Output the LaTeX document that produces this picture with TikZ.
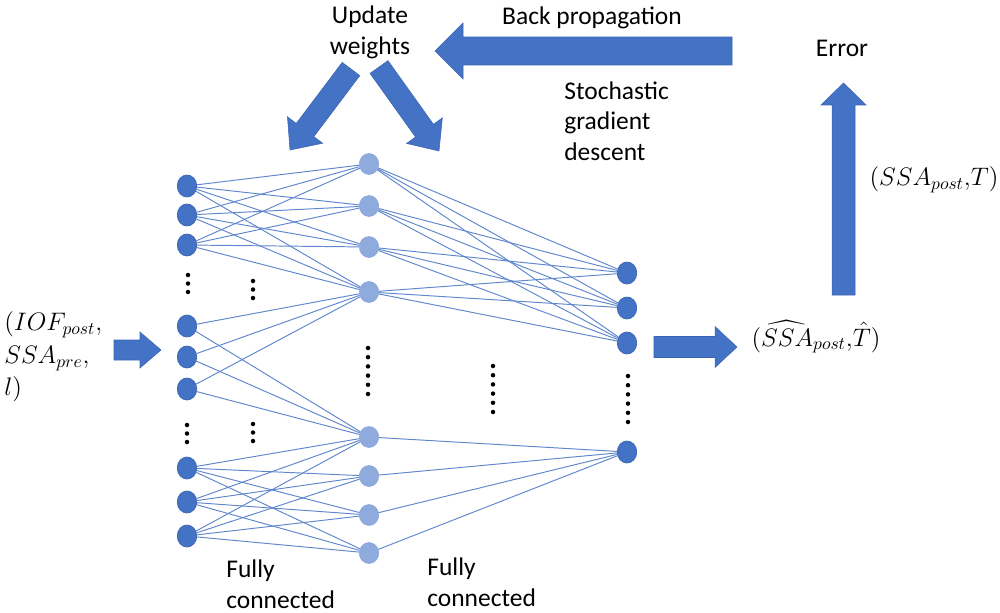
\documentclass[tikz,border=0pt]{standalone}
\usepackage{fontspec}
\setmainfont{Carlito}
\usepackage{amsmath}
\usepackage{tikz}
\usetikzlibrary{positioning,calc,shapes.geometric}
\definecolor{darkblue}{HTML}{4472C4}
\definecolor{lightblue}{HTML}{8FAADC}
\definecolor{rimblue}{HTML}{3A64B2}

% block arrow: tail, tip, half shaft, half head, head length
\newcommand{\fatarrow}[5]{%
  \coordinate (hb) at ($(#2)!#5!(#1)$);
  \fill[darkblue, draw=rimblue, line width=0.3pt]
    ($(#1)!#3!90:(#2)$) -- ($(hb)!#3!90:(#2)$) -- ($(hb)!#4!90:(#2)$) -- (#2)
    -- ($(hb)!#4!-90:(#2)$) -- ($(hb)!#3!-90:(#2)$) -- ($(#1)!#3!-90:(#2)$) -- cycle;}

\begin{document}
\begin{tikzpicture}[x=0.02cm, y=-0.02cm,
    inode/.style={ellipse, fill=darkblue, draw=rimblue, line width=0.4pt,
                  minimum width=0.39cm, minimum height=0.44cm, inner sep=0pt},
    hnode/.style={ellipse, fill=lightblue, draw=lightblue!90!darkblue, line width=0.3pt,
                  minimum width=0.39cm, minimum height=0.42cm, inner sep=0pt},
    edge/.style={darkblue!85, line width=0.55pt},
    lbl/.style={font=\fontsize{14.5}{17.5}\selectfont, inner sep=0pt},
    vdot/.style={fill=black}]
  \useasboundingbox (0,0) rectangle (1000,612);

  % layers
  \foreach \y [count=\i] in {186,215,245,326,357,389,468,502,536}
    \node[inode] (i\i) at (187,\y) {};
  \foreach \y [count=\i] in {164,206,247,292,437,476,515,553}
    \node[hnode] (h\i) at (369,\y) {};
  \foreach \y [count=\i] in {273,308,343,452}
    \node[inode] (o\i) at (627,\y) {};

  % weights
  \foreach \a in {1,2,3}
    \foreach \b in {1,...,4} \draw[edge] (i\a) -- (h\b);
  \foreach \a in {4,5,6}
    \foreach \b in {4,5} \draw[edge] (i\a) -- (h\b);
  \foreach \a in {7,8,9}
    \foreach \b in {5,...,8} \draw[edge] (i\a) -- (h\b);
  \foreach \a in {1,...,4}
    \foreach \b in {1,2,3} \draw[edge] (h\a) -- (o\b);
  \foreach \a in {5,...,8} \draw[edge] (h\a) -- (o4);

  % ellipsis dots
  \foreach \x/\y in {188/275, 253/281, 187/425, 253/424}
    \foreach \k in {0,1,2} \fill[vdot] (\x,\y+8.5*\k) circle (0.045cm);
  \foreach \x/\y in {368/348, 493/366, 628/376}
    \foreach \k in {0,...,5} \fill[vdot] (\x,\y+9.2*\k) circle (0.045cm);

  % block arrows
  \coordinate (intail) at (114,350);  \coordinate (intip) at (161,350);
  \coordinate (outtail) at (654,347); \coordinate (outtip) at (737,347);
  \coordinate (errtail) at (843.5,295); \coordinate (errtip) at (843.5,83);
  \coordinate (bptail) at (732,51);   \coordinate (bptip) at (435,51);
  \coordinate (ltail) at (351,69);    \coordinate (ltip) at (290,150);
  \coordinate (rtail) at (379,67);    \coordinate (rtip) at (439,151);
  \fatarrow{intail}{intip}{0.2cm}{0.36cm}{0.42cm}
  \fatarrow{outtail}{outtip}{0.21cm}{0.41cm}{0.44cm}
  \fatarrow{errtail}{errtip}{0.23cm}{0.45cm}{0.44cm}
  \fatarrow{bptail}{bptip}{0.28cm}{0.56cm}{0.56cm}
  \fatarrow{ltail}{ltip}{0.22cm}{0.44cm}{0.5cm}
  \fatarrow{rtail}{rtip}{0.22cm}{0.44cm}{0.5cm}

  % labels
  \node[lbl, align=center] (upd) at (370,32) {Update\\weights};
  \node[lbl, anchor=base] (bp) at (592,24) {Back propagation};
  \node[lbl, anchor=base] (err) at (842,56) {Error};
  \node[lbl, align=left, anchor=west] (sgd) at (564,121) {Stochastic\\gradient\\descent};
  \node[lbl, align=left, anchor=west] (fc1) at (226,584) {Fully\\connected};
  \node[lbl, align=left, anchor=west] (fc2) at (427,582) {Fully\\connected};
  \node[lbl, align=left, anchor=west, font=\fontsize{14.5}{18.5}\selectfont] (inp) at (4,357)
    {$(IOF_{post}{,}$\\$SSA_{pre}{,}$\\$l)$};
  \node[lbl] (pred) at (816,337) {$(\widehat{SSA}_{post}{,}\hat{T})$};
  \node[lbl] (truth) at (934,180) {$(SSA_{post}{,}T)$};
\end{tikzpicture}
\end{document}
